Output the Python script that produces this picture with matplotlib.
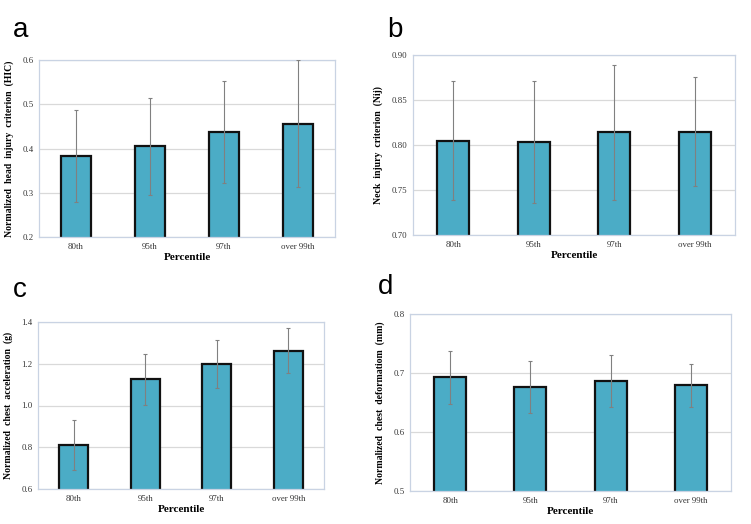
import matplotlib
matplotlib.use("Agg")
import matplotlib.pyplot as plt
from matplotlib.ticker import FormatStrFormatter

# ---------------------------------------------------------------------------
# data
# ---------------------------------------------------------------------------
categories = ["80th", "95th", "97th", "over 99th"]

hic_mean = [0.383, 0.405, 0.438, 0.456]
hic_err = [0.105, 0.110, 0.115, 0.143]

nij_mean = [0.805, 0.803, 0.814, 0.815]
nij_err = [0.066, 0.068, 0.075, 0.061]

acc_mean = [0.810, 1.125, 1.200, 1.262]
acc_err = [0.120, 0.123, 0.115, 0.107]

defl_mean = [0.693, 0.676, 0.687, 0.679]
defl_err = [0.045, 0.044, 0.044, 0.036]

W, H = 751, 524
BAR_COLOR = "#4bacc6"
SERIF = ["Liberation Serif", "DejaVu Serif"]


def px_axes(fig, x0, y0, x1, y1):
    """Axes from pixel box (top-left origin)."""
    return fig.add_axes([x0 / W, 1 - y1 / H, (x1 - x0) / W, (y1 - y0) / H])


def panel(ax, mean, err, ylabel, ylim, step, fmt):
    x = range(len(categories))
    ax.bar(x, mean, width=0.4, color=BAR_COLOR, edgecolor="#111111",
           linewidth=1.6, zorder=2)
    ax.errorbar(x, mean, yerr=err, fmt="none", ecolor="#808080",
                elinewidth=0.8, capsize=1.2, capthick=0.8, zorder=3)
    ax.set_xlim(-0.5, len(categories) - 0.5)
    ax.set_ylim(*ylim)
    ticks = []
    v = ylim[0]
    while v <= ylim[1] + 1e-9:
        ticks.append(round(v, 4))
        v += step
    ax.set_yticks(ticks)
    ax.yaxis.set_major_formatter(FormatStrFormatter(fmt))
    ax.set_xticks(list(x))
    ax.set_xticklabels(categories)
    ax.tick_params(length=0, labelsize=6.3, pad=4)
    for lab in ax.get_xticklabels() + ax.get_yticklabels():
        lab.set_family(SERIF)
        lab.set_color("#333333")
    ax.grid(axis="y", color="#d9d9d9", linewidth=0.9, zorder=0)
    ax.set_axisbelow(True)
    for s in ax.spines.values():
        s.set_color("#c9d3e3")
        s.set_linewidth(0.9)
    ax.set_xlabel("Percentile", family=SERIF, fontweight="bold", fontsize=8,
                  labelpad=2)
    ax.set_ylabel(ylabel, family=SERIF, fontweight="bold", fontsize=7.0,
                  labelpad=6)


fig = plt.figure(figsize=(W / 100, H / 100), dpi=100)

ax_a = px_axes(fig, 39, 60, 335, 237)
panel(ax_a, hic_mean, hic_err, "Normalized  head  injury  criterion  (HIC)",
      (0.2, 0.6), 0.1, "%.1f")

ax_b = px_axes(fig, 413, 55, 735, 235)
panel(ax_b, nij_mean, nij_err, "Neck  injury  criterion  (Nij)",
      (0.70, 0.90), 0.05, "%.2f")

ax_c = px_axes(fig, 38, 322, 324, 489)
panel(ax_c, acc_mean, acc_err, "Normalized  chest  acceleration  (g)",
      (0.6, 1.4), 0.2, "%.1f")

ax_d = px_axes(fig, 410, 314, 731, 491)
panel(ax_d, defl_mean, defl_err, "Normalized  chest  deformatiom  (mm)",
      (0.5, 0.8), 0.1, "%.1f")

for lab, (px, py) in zip("abcd", [(13, 30), (387, 30), (13, 290), (378, 287)]):
    fig.text(px / W, 1 - py / H, lab, fontsize=20, va="center", ha="left",
             family=["Liberation Sans", "DejaVu Sans"])

fig.savefig("out.png", dpi=100)
